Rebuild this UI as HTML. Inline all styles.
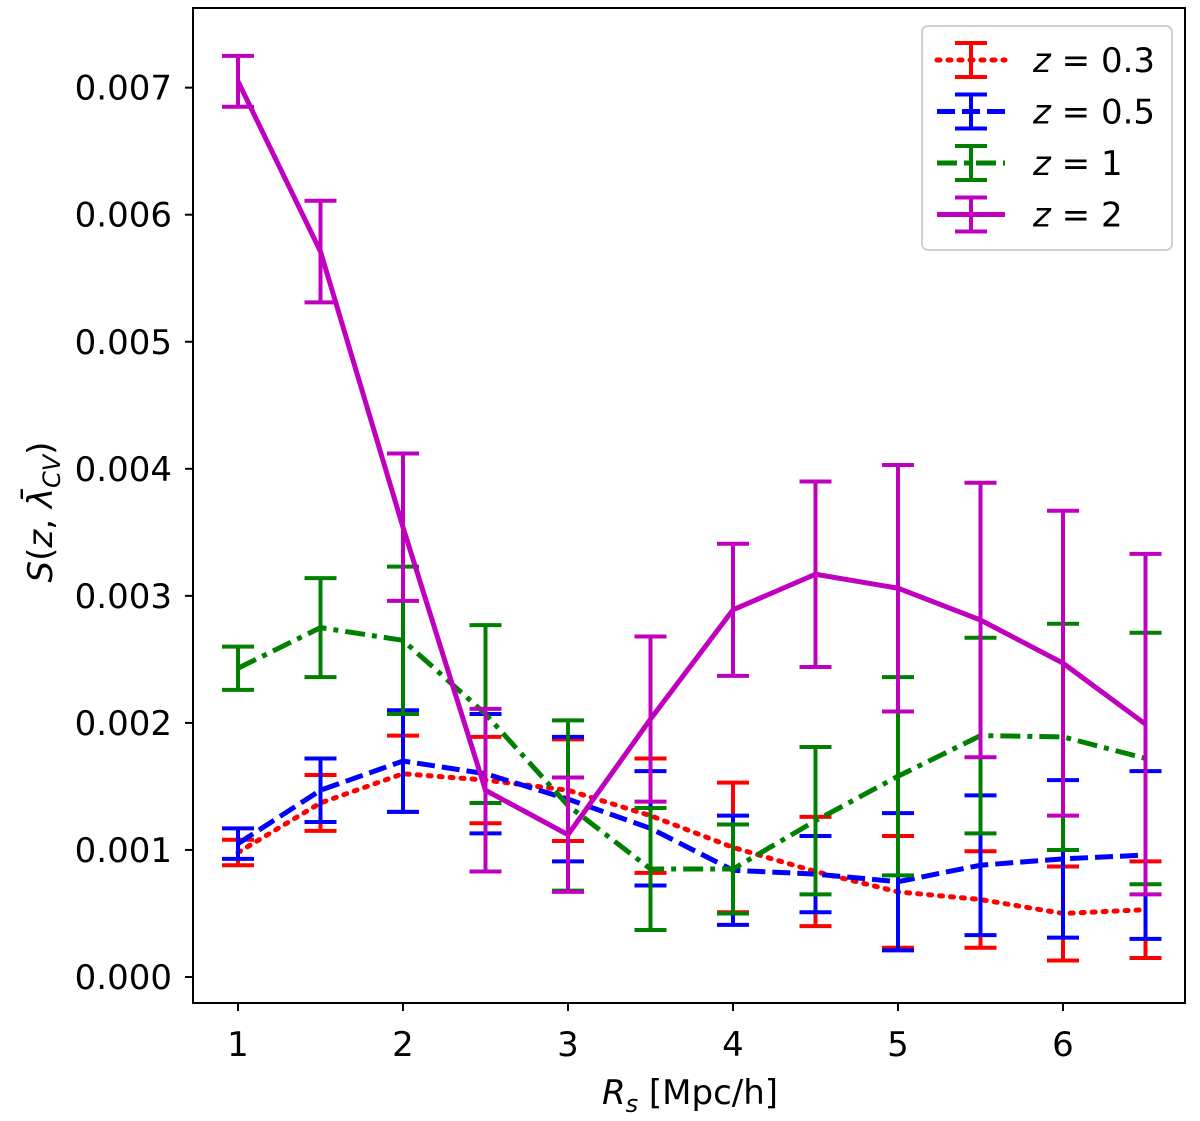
<!DOCTYPE html>
<html><head><meta charset="utf-8"><style>
body{margin:0;background:#fff;}
svg text{font-family:"DejaVu Sans","Liberation Sans",sans-serif;}
</style></head><body>
<svg id="chart" width="1200" height="1116" xmlns="http://www.w3.org/2000/svg">
<g id="marks"></g>
<rect x="193" y="8" width="992" height="995" fill="none" stroke="#000" stroke-width="2"/>
<g id="axes"></g>
<text x="690" y="1104" font-size="34" text-anchor="middle"><tspan font-style="italic">R</tspan><tspan font-style="italic" font-size="24" dy="8">s</tspan><tspan dy="-8"> [Mpc/h]</tspan></text>
<text transform="translate(52,512) rotate(-90)" font-size="34" text-anchor="middle"><tspan font-style="italic">S</tspan>(<tspan font-style="italic">z</tspan>, <tspan font-style="italic">λ̄</tspan><tspan font-style="italic" font-size="24" dy="8">CV</tspan><tspan dy="-8">)</tspan></text>
<g id="legend">
<rect x="922" y="26" width="250" height="224" rx="6" fill="#fff" stroke="#ccc" stroke-width="2" opacity="0.9"/>
</g>
</svg>
<script>
const xs=[1,1.5,2,2.5,3,3.5,4,4.5,5,5.5,6,6.5];
const z03=[0.98,1.37,1.6,1.55,1.47,1.27,1.02,0.83,0.67,0.61,0.5,0.53];
const e03=[0.1,0.22,0.3,0.34,0.4,0.45,0.51,0.43,0.44,0.38,0.37,0.38];
const z05=[1.05,1.47,1.7,1.6,1.4,1.17,0.84,0.81,0.75,0.88,0.93,0.96];
const e05=[0.12,0.25,0.4,0.47,0.49,0.45,0.43,0.3,0.54,0.55,0.62,0.66];
const z1=[2.43,2.75,2.65,2.07,1.35,0.85,0.85,1.23,1.58,1.9,1.89,1.72];
const e1=[0.17,0.39,0.58,0.7,0.67,0.48,0.35,0.58,0.78,0.77,0.89,0.99];
const z2=[7.05,5.71,3.54,1.47,1.12,2.03,2.89,3.17,3.06,2.81,2.47,1.99];
const e2=[0.2,0.4,0.58,0.64,0.45,0.65,0.52,0.73,0.97,1.08,1.2,1.34];
const xTicks=[1,2,3,4,5,6];
const yTicks=[0,1,2,3,4,5,6,7];
const X=v=>238+(v-1)*165;
const Y=v=>977-v*127.05;
const NS="http://www.w3.org/2000/svg";
function mk(t,a,p){const e=document.createElementNS(NS,t);for(const k in a)e.setAttribute(k,a[k]);p.appendChild(e);return e;}
const axes=document.getElementById('axes'),marks=document.getElementById('marks');
xTicks.forEach(v=>{
 const l=mk('line',{x1:X(v),x2:X(v),y1:1003,y2:1011,stroke:'#000','stroke-width':2},axes);
 
 
 const t=mk('text',{x:X(v),y:1056,'font-size':34,'text-anchor':'middle'},axes);t.textContent=v;
 
 
});
yTicks.forEach(v=>{
 const l=mk('line',{x1:185,x2:193,y1:Y(v),y2:Y(v),stroke:'#000','stroke-width':2},axes);
 
 
 const t=mk('text',{x:172,y:Y(v)+12,'font-size':34,'text-anchor':'end'},axes);t.textContent=(v/1000).toFixed(3);
 
 
});
const series=[
 {n:'z-0.3',v:z03,e:e03,c:'#ff0000',d:'3,8',cap:'round',lab:'0.3'},
 {n:'z-0.5',v:z05,e:e05,c:'#0000ff',d:'18,7',cap:'butt',lab:'0.5'},
 {n:'z-1',v:z1,e:e1,c:'#008000',d:'20,7,5,7',cap:'butt',lab:'1'},
 {n:'z-2',v:z2,e:e2,c:'#bf00bf',d:'',cap:'butt',lab:'2'}];
const leg=document.getElementById('legend');
series.forEach((s,si)=>{
 const g=mk('g',{},marks);
 
 
 xs.forEach((x,i)=>{
  const b=mk('path',{d:`M${X(x)},${Y(s.v[i]-s.e[i])}V${Y(s.v[i]+s.e[i])}M${X(x)-16},${Y(s.v[i]-s.e[i])}h32M${X(x)-16},${Y(s.v[i]+s.e[i])}h32`,stroke:s.c,'stroke-width':4,fill:'none'},g);
  
  
 });
 const p=mk('polyline',{points:xs.map((x,i)=>X(x)+','+Y(s.v[i])).join(' '),fill:'none',stroke:s.c,'stroke-width':5,'stroke-dasharray':s.d,'stroke-linecap':s.cap},g);
 
 
 const ly=60+si*51.5;
 const le=mk('g',{},leg);
 
 
 mk('path',{d:`M937,${ly}h68`,stroke:s.c,'stroke-width':5,'stroke-dasharray':s.d,'stroke-linecap':s.cap,fill:'none'},le);
 mk('path',{d:`M971,${ly-17}v34M955,${ly-17}h32M955,${ly+17}h32`,stroke:s.c,'stroke-width':4,fill:'none'},le);
 const t=mk('text',{x:1033,y:ly+12,'font-size':34},le);
 t.innerHTML='<tspan font-style="italic">z</tspan> = '+s.lab;
});
</script>
</body></html>
